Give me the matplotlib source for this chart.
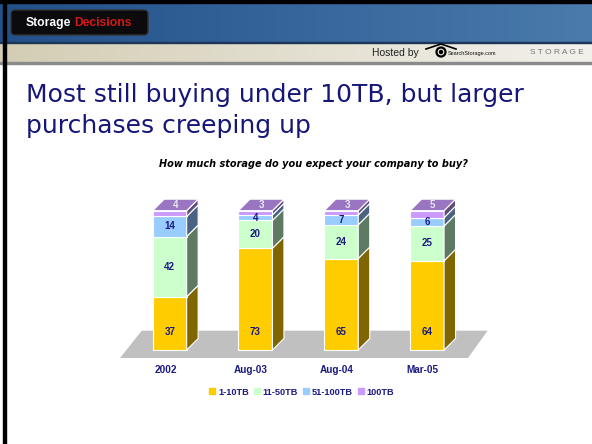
"""Storage Decisions slide: stacked 3D-style bar chart of expected storage purchases."""

import matplotlib
matplotlib.use("Agg")
import matplotlib.pyplot as plt
import numpy as np
from matplotlib.colors import LinearSegmentedColormap
from matplotlib.lines import Line2D
from matplotlib.patches import Circle, FancyBboxPatch, Polygon, Rectangle

# data
categories = ["2002", "Aug-03", "Aug-04", "Mar-05"]
tb_1_10 = [37, 73, 65, 64]
tb_11_50 = [42, 20, 24, 25]
tb_51_100 = [14, 4, 7, 6]
tb_100 = [4, 3, 3, 5]
series_names = ["1-10TB", "11-50TB", "51-100TB", "100TB"]

front_colors = ["#ffcc00", "#ccffcc", "#99ccff", "#cc99ff"]
side_colors = ["#806600", "#5e7a62", "#4a6283", "#5e4c7a"]
top_color = "#9a76c2"
NAVY = "#1a1a80"
TITLE_BLUE = "#16167a"

W, H = 592, 444
fig = plt.figure(figsize=(W / 100, H / 100), dpi=100)
fig.patch.set_facecolor("white")

# ---- slide decoration, pixel coords ----
bg = fig.add_axes([0, 0, 1, 1])
bg.axis("off")
grad = np.linspace(0, 1, 256).reshape(1, -1)
hdr_cm = LinearSegmentedColormap.from_list("hdr", ["#22508a", "#4a7bac"])
strip_cm = LinearSegmentedColormap.from_list("strip", ["#d4cdb4", "#f2f1ec"])
bg.imshow(grad, cmap=hdr_cm, extent=(0, W, 42, 3), aspect="auto")
bg.imshow(grad, cmap=strip_cm, extent=(0, W, 62, 43), aspect="auto")
bg.add_patch(Rectangle((0, 0), W, 3, color="black"))
bg.add_patch(Rectangle((0, 42), W, 1.5, color="#1c3658"))
bg.add_patch(Rectangle((0, 62), W, 2, color="#8a8a8a"))
bg.add_patch(Rectangle((3, 0), 2.5, H, color="black"))

bg.add_patch(FancyBboxPatch((11, 10), 137, 25, boxstyle="round,pad=0,rounding_size=4",
                            facecolor="#0b0b0d", edgecolor="#333"))
bg.text(26, 23, "Storage", color="white", fontsize=8.7, fontweight="bold",
        family="Liberation Sans", va="center")
bg.text(74, 23, "Decisions", color="#d81818", fontsize=8.7, fontweight="bold",
        family="Liberation Sans", va="center")

bg.text(372, 53, "Hosted by", fontsize=7.5, color="#222", va="center", family="Liberation Sans")
bg.add_patch(Circle((441, 52), 4.5, facecolor="none", edgecolor="black", lw=1.6))
bg.add_patch(Circle((441, 52), 1.5, color="black"))
bg.plot([426, 441, 456], [49, 44, 49], color="black", lw=1.2)
bg.text(448, 54, "SearchStorage.com", fontsize=4, color="#111", va="center", family="Liberation Sans")
bg.text(530, 53, "S T O R A G E", fontsize=6, color="#777", va="center", family="Liberation Sans")

bg.text(26, 102, "Most still buying under 10TB, but larger", fontsize=18,
        color=TITLE_BLUE, va="baseline")
bg.text(26, 133, "purchases creeping up", fontsize=18, color=TITLE_BLUE, va="baseline")
bg.text(313, 164, "How much storage do you expect your company to buy?", fontsize=7,
        fontweight="bold", fontstyle="italic", ha="center", va="center")
bg.set_xlim(0, W)
bg.set_ylim(H, 0)

# ---- chart ----
ax = fig.add_axes([100 / W, (H - 370) / H, 400 / W, 200 / H])
ax.axis("off")
ax.set_xlim(-0.812, 3.850)
ax.set_ylim(-14.36, 129.2)

series = [tb_1_10, tb_11_50, tb_51_100, tb_100]
vals = np.array(series, dtype=float)
pct = vals / vals.sum(axis=0) * 100  # 100% stacked
x = np.arange(len(categories))
bw = 0.396
dx, dy = 0.134, 8.26

# floor
ax.add_patch(Polygon([(-0.578, -5.74), (3.477, -5.74), (3.706, 13.86), (-0.326, 13.86)],
                     closed=True, facecolor="#c0c0c0", edgecolor="none", zorder=0))

bottoms = np.zeros(len(categories))
for k, name in enumerate(series_names):
    h = pct[k]
    ax.bar(x, h, bw, bottom=bottoms, color=front_colors[k], edgecolor="white",
           linewidth=0.8, zorder=2)
    for i in range(len(categories)):
        xr = x[i] + bw / 2
        b, t = bottoms[i], bottoms[i] + h[i]
        ax.add_patch(Polygon([(xr, b), (xr + dx, b + dy), (xr + dx, t + dy), (xr, t)],
                             closed=True, facecolor=side_colors[k], edgecolor="white",
                             linewidth=0.8, zorder=2))
        if k == len(series_names) - 1:
            xl = x[i] - bw / 2
            ax.add_patch(Polygon([(xl, t), (xr, t), (xr + dx, t + dy), (xl + dx, t + dy)],
                                 closed=True, facecolor=top_color, edgecolor="white",
                                 linewidth=0.8, zorder=2))
            ax.text(x[i] + dx / 2, t + dy / 2, f"{int(vals[k, i])}", ha="center", va="center",
                    fontsize=7, fontweight="bold", color="#e8e8f0", family="Liberation Sans",
                    zorder=3)
        else:
            ly = b + h[i] / 2
            if k == 0:
                ly = min(ly, 13.0)
            ax.text(x[i], ly, f"{int(vals[k, i])}", ha="center", va="center", fontsize=7,
                    fontweight="bold", color=NAVY, family="Liberation Sans", zorder=3)
    bottoms += h

for i, c in enumerate(categories):
    ax.text(x[i] - 0.05, -14.4, c, ha="center", va="center", fontsize=7.2, fontweight="bold",
            color=NAVY, family="Liberation Sans", clip_on=False)

handles = [Line2D([], [], marker="s", linestyle="none", markersize=3.8,
                  markerfacecolor=c, markeredgecolor=c) for c in front_colors]
leg = fig.legend(handles, series_names, loc="center", bbox_to_anchor=(302 / W, 1 - 392 / H),
                 ncol=4, frameon=False, handlelength=0.6, handletextpad=0.35,
                 columnspacing=0.55, prop={"family": "Liberation Sans", "weight": "bold",
                                           "size": 6.6})
for t in leg.get_texts():
    t.set_color(NAVY)

fig.savefig("out.png", dpi=100)
